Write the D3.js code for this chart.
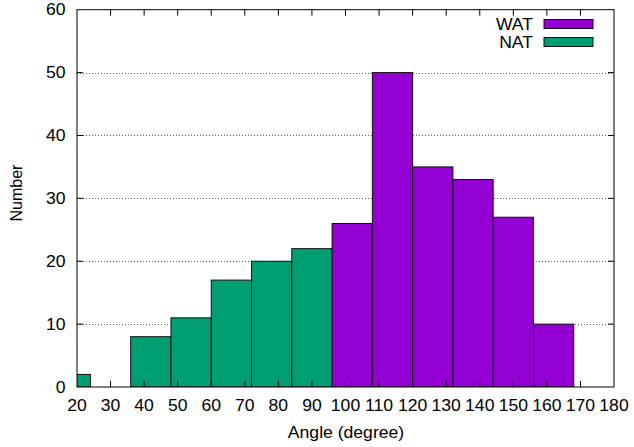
<!DOCTYPE html>
<html>
<head>
<meta charset="utf-8">
<script src="https://cdn.jsdelivr.net/npm/d3@7"></script>
<style>
  html, body { margin: 0; padding: 0; background: #fff; }
  svg { display: block; font-family: "Liberation Sans", Arial, sans-serif; }
</style>
</head>
<body>
<svg id="chart" width="634" height="447"></svg>
<script>
// Histogram of angles: bin start (degree) and counts per series
const binWidth = 12;
const natBins = [12, 24, 36, 48, 60, 72, 84];
const natCounts = [2, 0, 8, 11, 17, 20, 22];
const watBins = [96, 108, 120, 132, 144, 156];
const watCounts = [26, 50, 35, 33, 27, 10];
const xTicks = [20, 30, 40, 50, 60, 70, 80, 90, 100, 110, 120, 130, 140, 150, 160, 170, 180];
const yTicks = [0, 10, 20, 30, 40, 50, 60];
const seriesNames = ["WAT", "NAT"];
const seriesColors = ["#9400d3", "#009e73"];

const svg = d3.select("#chart");
const m = { left: 77, right: 614, top: 9.7, bottom: 387 };
const fontSize = 16;
const stretch = 1.1; // slightly wide lettering

const x = d3.scaleLinear().domain([20, 180]).range([m.left, m.right]);
const y = d3.scaleLinear().domain([0, 60]).range([m.bottom, m.top]);

// horizontal text helper with widened glyphs
function label(g, tx, ty, str, anchor) {
  return g.append("text")
    .attr("transform", `translate(${tx},${ty}) scale(${stretch},1)`)
    .attr("text-anchor", anchor)
    .attr("font-size", fontSize).attr("fill", "#000")
    .text(str);
}

svg.append("defs").append("clipPath").attr("id", "plotClip")
  .append("rect")
  .attr("x", m.left).attr("y", m.top)
  .attr("width", m.right - m.left).attr("height", m.bottom - m.top);

// dotted grid lines
svg.append("g").selectAll("line")
  .data(yTicks.filter(d => d > 0 && d < 60))
  .join("line")
  .attr("x1", m.left).attr("x2", m.right)
  .attr("y1", d => Math.round(y(d)) + 0.5).attr("y2", d => Math.round(y(d)) + 0.5)
  .attr("stroke", "#333").attr("stroke-width", 0.8)
  .attr("stroke-dasharray", "1,2");

// bars
const bars = [
  ...natBins.map((b, i) => ({ start: b, count: natCounts[i], color: seriesColors[1] })),
  ...watBins.map((b, i) => ({ start: b, count: watCounts[i], color: seriesColors[0] }))
];
svg.append("g").attr("clip-path", "url(#plotClip)")
  .selectAll("rect")
  .data(bars)
  .join("rect")
  .attr("x", d => x(d.start))
  .attr("width", d => x(d.start + binWidth) - x(d.start))
  .attr("y", d => y(d.count))
  .attr("height", d => y(0) - y(d.count))
  .attr("fill", d => d.color)
  .attr("stroke", "#111").attr("stroke-width", 1);

// axes (ticks inward, mirrored)
const tickLen = 6;
const axisG = svg.append("g");
axisG.append("rect")
  .attr("x", m.left).attr("y", m.top)
  .attr("width", m.right - m.left).attr("height", m.bottom - m.top)
  .attr("fill", "none").attr("stroke", "#000").attr("stroke-width", 1);

xTicks.forEach(t => {
  if (t === 20 || t === 180) return;
  axisG.append("line").attr("x1", x(t)).attr("x2", x(t))
    .attr("y1", m.bottom).attr("y2", m.bottom - tickLen).attr("stroke", "#000");
  axisG.append("line").attr("x1", x(t)).attr("x2", x(t))
    .attr("y1", m.top).attr("y2", m.top + tickLen).attr("stroke", "#000");
});
yTicks.forEach(t => {
  if (t === 0 || t === 60) return;
  axisG.append("line").attr("x1", m.left).attr("x2", m.left + tickLen)
    .attr("y1", y(t)).attr("y2", y(t)).attr("stroke", "#000");
  axisG.append("line").attr("x1", m.right).attr("x2", m.right - tickLen)
    .attr("y1", y(t)).attr("y2", y(t)).attr("stroke", "#000");
});

const xLab = svg.append("g");
xTicks.forEach(t => label(xLab, x(t), 411, t, "middle"));

const yLab = svg.append("g");
yTicks.forEach(t => label(yLab, 65.5, y(t) + 5.6, t, "end"));

label(svg, 346, 438, "Angle (degree)", "middle");

svg.append("text")
  .attr("transform", "translate(21.5,193) rotate(-90)")
  .attr("text-anchor", "middle").attr("font-size", fontSize)
  .text("Number");

// legend
const legend = svg.append("g");
seriesNames.forEach((name, i) => {
  const cy = 24 + i * 18;
  label(legend, 533, cy + 5.6, name, "end");
  legend.append("rect")
    .attr("x", 544).attr("y", cy - 4.5)
    .attr("width", 49).attr("height", 9)
    .attr("fill", seriesColors[i])
    .attr("stroke", "#111").attr("stroke-width", 1);
});
</script>
</body>
</html>
